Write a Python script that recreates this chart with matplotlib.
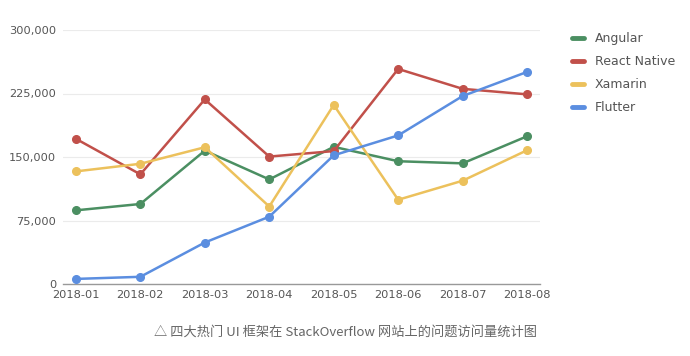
import matplotlib
matplotlib.use("Agg")
import matplotlib.pyplot as plt
from matplotlib.lines import Line2D

months = ["2018-01", "2018-02", "2018-03", "2018-04", "2018-05", "2018-06", "2018-07", "2018-08"]
angular = [87000, 94500, 157500, 123500, 162000, 145000, 142500, 174500]
react_native = [171500, 129500, 218000, 150500, 157000, 254000, 230500, 224000]
xamarin = [133000, 142000, 161500, 91500, 211500, 99500, 122000, 158000]
flutter = [6000, 8500, 49000, 79500, 152000, 175500, 222000, 250500]
series_names = ["Angular", "React Native", "Xamarin", "Flutter"]
y_ticks = [0, 75000, 150000, 225000, 300000]
y_tick_labels = ["0", "75,000", "150,000", "225,000", "300,000"]
caption = "△ 四大热门 UI 框架在 StackOverflow 网站上的问题访问量统计图"

colors = ["#4b8f62", "#c1504a", "#ecc15c", "#5b8ee0"]

fig = plt.figure(figsize=(6.9, 3.56), dpi=100)
ax = fig.add_axes([63/690, 1-284/356, (540-63)/690, (284-30)/356])

x = list(range(len(months)))
for vals, c, name in zip([angular, react_native, xamarin, flutter], colors, series_names):
    ax.plot(x, vals, color=c, lw=1.8, marker="o", ms=5.5, label=name, zorder=3)

ax.set_xlim(-0.2, 7.2)
ax.set_ylim(0, 300000)
ax.set_yticks(y_ticks)
ax.set_yticklabels(y_tick_labels)
ax.set_xticks(x)
ax.set_xticklabels(months)
ax.tick_params(axis="both", length=0, labelsize=8.2, colors="#555555")
ax.tick_params(axis="x", pad=4.5)
ax.tick_params(axis="y", pad=5)
ax.grid(axis="y", color="#ebebeb", lw=0.8)
ax.set_axisbelow(True)
for s in ["top", "right", "left"]:
    ax.spines[s].set_visible(False)
ax.spines["bottom"].set_color("#999999")
ax.spines["bottom"].set_linewidth(1)

handles = [Line2D([0], [0], color=c, lw=3.5, solid_capstyle="round") for c in colors]
fig.legend(handles, series_names, loc="upper left", bbox_to_anchor=(561/690, 1-21/356),
           frameon=False, fontsize=9, handlelength=0.95, handletextpad=0.85,
           labelspacing=0.8, labelcolor="#555555")

fig.text(346/690, 1-332/356, caption, ha="center", va="center", fontsize=9.5,
         color="#666666", family=["Noto Sans CJK SC", "DejaVu Sans"])

fig.savefig("out.png", dpi=100, facecolor="white")
